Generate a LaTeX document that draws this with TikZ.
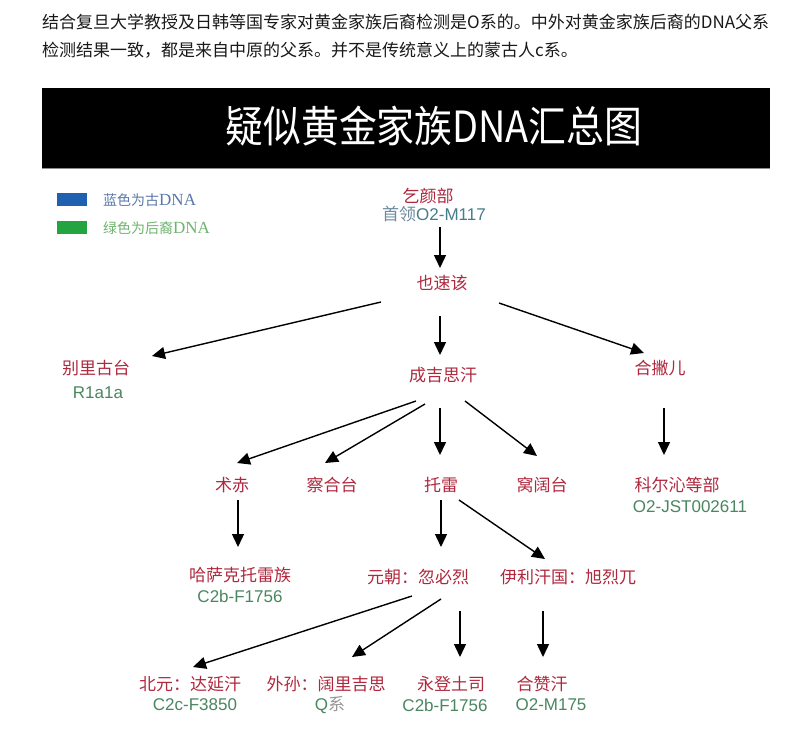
\documentclass[tikz,border=0pt]{standalone}
\usepackage{fontspec}
\usepackage{graphicx}
\setmainfont{Liberation Sans}
\newfontfamily\cjk{Noto Sans CJK SC}
\newfontfamily\dnaserif{Liberation Serif}
\usetikzlibrary{arrows.meta,calc}
\definecolor{lblred}{RGB}{176,40,62}
\definecolor{codegreen}{RGB}{74,134,96}
\definecolor{leadgray}{RGB}{110,140,160}
\definecolor{leadteal}{RGB}{70,125,140}
\definecolor{legblue}{RGB}{32,96,176}
\definecolor{leggreen}{RGB}{36,164,64}
\definecolor{legbluetext}{RGB}{90,120,170}
\definecolor{leggreentext}{RGB}{110,180,110}
\definecolor{bodytext}{RGB}{25,25,25}
\definecolor{qgray}{RGB}{150,150,150}
\begin{document}
\begin{tikzpicture}[x=1pt,y=-1pt,
  lbl/.style={font=\cjk\fontsize{17}{20}\selectfont, text=lblred, inner sep=0pt},
  code/.style={font=\fontsize{17}{20}\selectfont, text=codegreen, inner sep=0pt},
  intro/.style={anchor=west, font=\cjk\fontsize{17}{20}\selectfont, text=bodytext, inner sep=0pt},
  legbox/.style={anchor=north west, inner sep=0pt, minimum width=30pt, minimum height=13pt},
  legtext/.style={anchor=west, inner sep=0pt, font=\fontsize{14}{16}\selectfont},
  arr/.style={line width=1.4pt, -{Triangle[length=13pt,width=12pt]}},
]
\useasboundingbox (0,0) rectangle (800,728);
\fill[white] (0,0) rectangle (800,728);

% intro text
\node[intro] (intro1) at (42,22) {结合复旦大学教授及日韩等国专家对黄金家族后裔检测是O系的。中外对黄金家族后裔的DNA父系};
\node[intro] (intro2) at (42,50) {检测结果一致，都是来自中原的父系。并不是传统意义上的蒙古人c系。};

% banner
\node[fill=black, anchor=north west, inner sep=0pt, minimum width=728pt, minimum height=80pt] (banner) at (42,88) {};
\draw[black!45, line width=1pt] (banner.south west) -- (banner.south east);
\node[text=white, inner sep=0pt, font=\cjk\fontsize{43}{46}\selectfont] (title) at (434,126) {\scalebox{0.88}[1]{疑似黄金家族DNA汇总图}};

% legend
\node[legbox, fill=legblue] (legb) at (57,193) {};
\node[legtext, text=legbluetext] (legbt) at (103,200) {{\cjk 蓝色为古}{\dnaserif\fontsize{17}{18}\selectfont DNA}};
\node[legbox, fill=leggreen] (legg) at (57,221) {};
\node[legtext, text=leggreentext] (leggt) at (103,228) {{\cjk 绿色为后裔}{\dnaserif\fontsize{17}{18}\selectfont DNA}};

% nodes
\node[lbl] (qiyan) at (428,196) {乞颜部};
\node[inner sep=0pt, font=\fontsize{17}{20}\selectfont] (qiyanlead) at (434,214) {{\cjk\color{leadgray}首领}{\color{leadteal}O2-M117}};
\node[lbl] (yesugei) at (442,283) {也速该};
\node[lbl] (belgutei) at (96,368) {别里古台};
\node[code] (belguteicode) at (98,393) {R1a1a};
\node[lbl] (chinggis) at (443,375) {成吉思汗};
\node[lbl] (hasar) at (660,368) {合撇儿};
\node[lbl] (jochi) at (232,485) {术赤};
\node[lbl] (chagatai) at (332,485) {察合台};
\node[lbl] (tolui) at (441,485) {托雷};
\node[lbl] (ogedei) at (542,485) {窝阔台};
\node[lbl] (horqin) at (677,485) {科尔沁等部};
\node[code] (horqincode) at (690,507) {O2-JST002611};
\node[lbl] (kazakh) at (240,575) {哈萨克托雷族};
\node[code] (kazakhcode) at (240,596) {C2b-F1756};
\node[lbl] (kublai) at (418,577) {元朝：忽必烈};
\node[lbl] (hulagu) at (568,577) {伊利汗国：旭烈兀};
\node[lbl] (dayan) at (190,684) {北元：达延汗};
\node[code] (dayancode) at (195,705) {C2c-F3850};
\node[lbl] (korguz) at (326,684) {外孙：阔里吉思};
\node[code] (korguzcode) at (330,705) {Q{\cjk\color{qgray}系}};
\node[lbl] (yongdeng) at (451,684) {永登土司};
\node[code] (yongdengcode) at (445,705) {C2b-F1756};
\node[lbl] (ghazan) at (542,684) {合赞汗};
\node[code] (ghazancode) at (551,705) {O2-M175};

% arrows
\draw[arr] ($(qiyanlead)+(6,13)$) -- ($(yesugei)+(-2,-15)$);
\draw[arr] ($(yesugei)+(-61,19)$) -- ($(belgutei)+(56,-12)$);
\draw[arr] ($(yesugei)+(-2,33)$) -- ($(chinggis)+(-3,-20)$);
\draw[arr] ($(yesugei)+(57,20)$) -- ($(hasar)+(-16,-15)$);
\draw[arr] ($(chinggis)+(-27,26)$) -- ($(jochi)+(5,-22)$);
\draw[arr] ($(chinggis)+(-18,29)$) -- ($(chagatai)+(-7,-22)$);
\draw[arr] ($(chinggis)+(-3,33)$) -- ($(tolui)+(-1,-30)$);
\draw[arr] ($(chinggis)+(22,26)$) -- ($(ogedei)+(-5,-29)$);
\draw[arr] ($(hasar)+(4,40)$) -- ($(horqin)+(-13,-30)$);
\draw[arr] ($(jochi)+(6,15)$) -- ($(kazakh)+(-2,-28)$);
\draw[arr] ($(tolui)+(0,15)$) -- ($(kublai)+(23,-30)$);
\draw[arr] ($(tolui)+(18,15)$) -- ($(hulagu)+(-23,-18)$);
\draw[arr] ($(kublai)+(-6,19)$) -- ($(dayan)+(3,-17)$);
\draw[arr] ($(kublai)+(23,22)$) -- ($(korguz)+(26,-27)$);
\draw[arr] ($(kublai)+(42,34)$) -- ($(yongdeng)+(9,-27)$);
\draw[arr] ($(hulagu)+(-25,34)$) -- ($(ghazan)+(1,-27)$);
\end{tikzpicture}
\end{document}
